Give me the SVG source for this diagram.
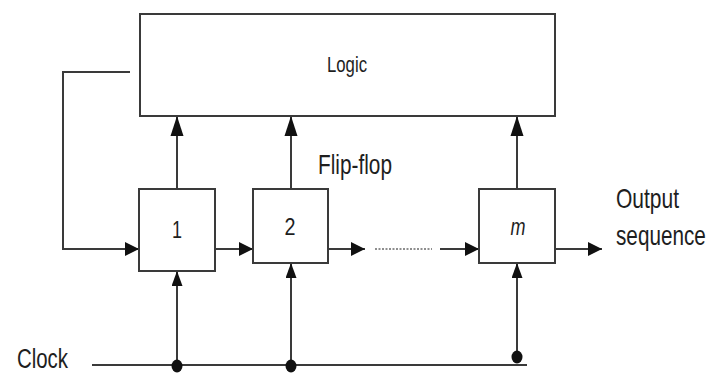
<svg xmlns="http://www.w3.org/2000/svg" width="716" height="374" viewBox="0 0 716 374">
  <style>
    .box { fill: #ffffff; stroke: #3a3a3a; stroke-width: 2; }
    .wire { fill: none; stroke: #3a3a3a; stroke-width: 2; }
    .dots { fill: none; stroke: #6a6a6a; stroke-width: 1.5; stroke-dasharray: 2 1.5; }
    .lbl { font-family: "Liberation Sans", Arial, sans-serif; fill: #1e1e1e; }
    .num { font-family: "Liberation Sans", Arial, sans-serif; fill: #1e1e1e; font-size: 24px; text-anchor: middle; }
  </style>
  <defs>
    <marker id="arrowH" markerUnits="userSpaceOnUse" viewBox="0 0 14 14" refX="14" refY="7" markerWidth="14" markerHeight="14" orient="auto">
      <path d="M0,0 L14,7 L0,14 z" fill="#111"/>
    </marker>
    <marker id="arrowUp" markerUnits="userSpaceOnUse" viewBox="0 0 20 14" refX="20" refY="7" markerWidth="20" markerHeight="14" orient="auto">
      <path d="M0,0.5 L20,7 L0,13.5 z" fill="#111"/>
    </marker>
    <marker id="arrowClk" markerUnits="userSpaceOnUse" viewBox="0 0 15 11" refX="15" refY="5.5" markerWidth="15" markerHeight="11" orient="auto">
      <path d="M0,0 L15,5.5 L0,11 z" fill="#111"/>
    </marker>
  </defs>

  <!-- connectors -->
  <g id="connectors">
    <!-- feedback from logic into flip-flop 1 -->
    <polyline class="wire" points="130,72 63,72 63,249 139,249" marker-end="url(#arrowH)"/>
    <!-- flip-flop outputs into logic -->
    <line class="wire" x1="177" y1="189" x2="177" y2="116" marker-end="url(#arrowUp)"/>
    <line class="wire" x1="291" y1="189" x2="291" y2="116" marker-end="url(#arrowUp)"/>
    <line class="wire" x1="517" y1="189" x2="517" y2="116" marker-end="url(#arrowUp)"/>
    <!-- shift chain -->
    <line class="wire" x1="215" y1="249" x2="253" y2="249" marker-end="url(#arrowH)"/>
    <line class="wire" x1="328" y1="249" x2="365" y2="249" marker-end="url(#arrowH)"/>
    <line class="dots" x1="375" y1="249" x2="432" y2="249"/>
    <line class="wire" x1="440" y1="249" x2="479" y2="249" marker-end="url(#arrowH)"/>
    <line class="wire" x1="555" y1="249" x2="602" y2="249" marker-end="url(#arrowH)"/>
    <!-- clock bus -->
    <line class="wire" x1="92" y1="365" x2="527" y2="365"/>
    <line class="wire" x1="177" y1="365" x2="177" y2="271" marker-end="url(#arrowClk)"/>
    <line class="wire" x1="291" y1="365" x2="291" y2="263" marker-end="url(#arrowClk)"/>
    <line class="wire" x1="517" y1="358" x2="517" y2="263" marker-end="url(#arrowClk)"/>
    <ellipse cx="177" cy="366" rx="5.5" ry="6.5" fill="#111"/>
    <ellipse cx="291" cy="366" rx="5.5" ry="6.5" fill="#111"/>
    <ellipse cx="517" cy="357" rx="5.5" ry="6.5" fill="#111"/>
  </g>

  <g id="logic">
    <rect class="box" x="140" y="14" width="415" height="102"/>
    <text class="lbl" x="327" y="72" font-size="22" textLength="40" lengthAdjust="spacingAndGlyphs">Logic</text>
  </g>

  <g id="ff1">
    <rect class="box" x="139" y="189" width="76" height="82"/>
    <text class="num" x="177" y="238" textLength="10" lengthAdjust="spacingAndGlyphs">1</text>
  </g>

  <g id="ff2">
    <rect class="box" x="253" y="189" width="75" height="74"/>
    <text class="num" x="290" y="235" textLength="11" lengthAdjust="spacingAndGlyphs">2</text>
  </g>

  <g id="ffm">
    <rect class="box" x="479" y="189" width="76" height="74"/>
    <text class="num" x="518" y="235" font-style="italic" textLength="15" lengthAdjust="spacingAndGlyphs">m</text>
  </g>

  <g id="flipflop-label">
    <text class="lbl" x="318" y="174" font-size="28" textLength="74" lengthAdjust="spacingAndGlyphs">Flip-flop</text>
  </g>

  <!-- condensed lettering: narrowed horizontally -->
  <g id="output-label">
    <text class="lbl" transform="translate(616,208) scale(0.75,1)" font-size="28">Output</text>
    <text class="lbl" transform="translate(616,245) scale(0.74,1)" font-size="28">sequence</text>
  </g>

  <g id="clock-label">
    <text class="lbl" x="17" y="368" font-size="27" textLength="51" lengthAdjust="spacingAndGlyphs">Clock</text>
  </g>
</svg>
